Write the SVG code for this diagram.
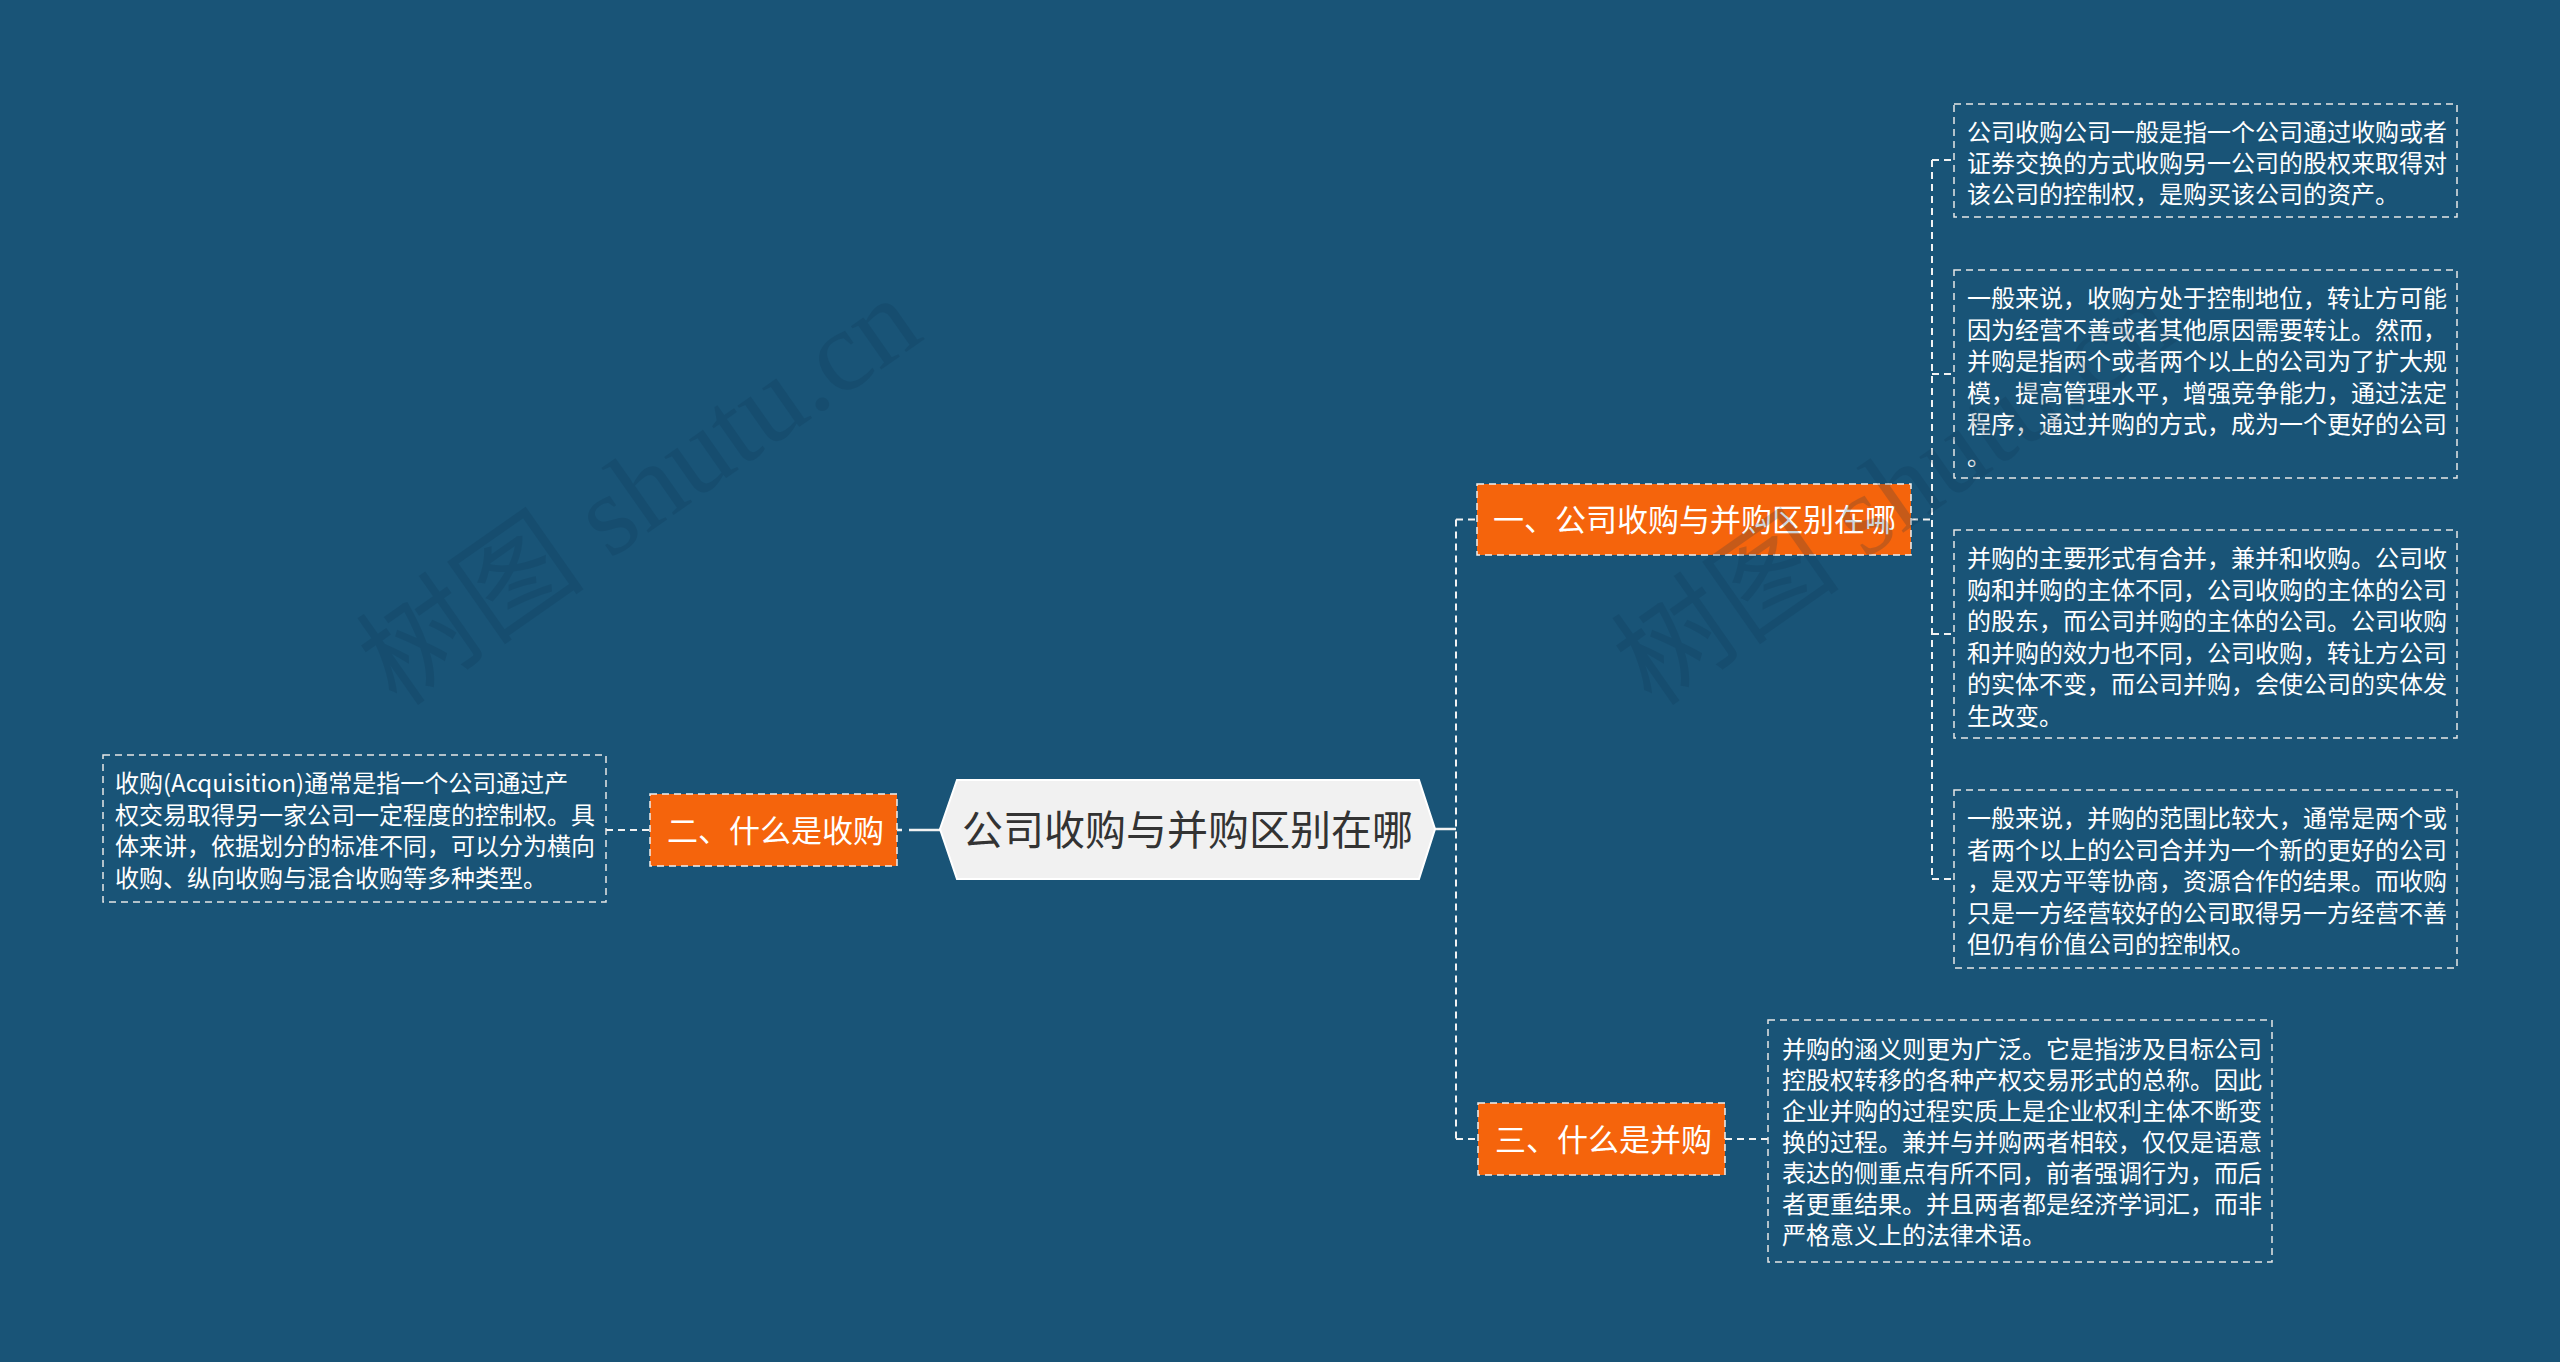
<svg xmlns="http://www.w3.org/2000/svg" width="2560" height="1362" viewBox="0 0 2560 1362">
<style>
.bg{fill:#195477}
.conn{fill:none;stroke:#f2f2f2;stroke-width:2;stroke-dasharray:7 5}
.solid{fill:none;stroke:#f2f2f2;stroke-width:2.5}
.tbox{fill:none;stroke:#e6e6e6;stroke-width:1.5;stroke-dasharray:7 5}
.obox{fill:#f5640c;stroke:#f0f0f0;stroke-width:1.5;stroke-dasharray:7 5}
.t{font-family:"Noto Sans CJK SC","Microsoft YaHei",sans-serif;font-size:24px;fill:#ffffff}
.ot{font-family:"Noto Sans CJK SC","Microsoft YaHei",sans-serif;font-size:31px;fill:#ffffff}
.ct{font-family:"Noto Sans CJK SC","Microsoft YaHei",sans-serif;font-size:41px;fill:#333333}
.wm{font-family:"Liberation Serif","Noto Sans CJK SC",serif;font-size:115px;fill:#0c3350;opacity:0.2}
</style>
<rect class="bg" x="0" y="0" width="2560" height="1362"/>

<g id="connectors">
  <path class="conn" d="M606 830 H650"/>
  <path class="solid" d="M897 830 H902 M909 830 H940"/>
  <path class="solid" d="M1435 829 H1456"/>
  <path class="conn" d="M1456 519.5 V1139"/>
  <path class="conn" d="M1456 519.5 H1477"/>
  <path class="conn" d="M1456 1139 H1478"/>
  <path class="conn" d="M1911 519.5 H1932"/>
  <path class="conn" d="M1932 160 V880"/>
  <path class="conn" d="M1932 160 H1954"/>
  <path class="conn" d="M1932 374 H1954"/>
  <path class="conn" d="M1932 634 H1954"/>
  <path class="conn" d="M1932 879 H1954"/>
  <path class="conn" d="M1725 1139 H1768"/>
</g>

<g id="root">
  <polygon points="940,829 957,780 1419,780 1435,829 1419,879 957,879" fill="#f1f1f1" stroke="#ffffff" stroke-width="2"/>
  <text class="ct" x="1187.5" y="845" text-anchor="middle">公司收购与并购区别在哪</text>
</g>

<g id="n1">
  <rect class="obox" x="1477" y="484" width="434" height="71"/>
  <text class="ot" x="1493" y="531">一、公司收购与并购区别在哪</text>
</g>

<g id="n2">
  <rect class="obox" x="650" y="794" width="247" height="72"/>
  <text class="ot" x="667" y="841.5">二、什么是收购</text>
</g>

<g id="n3">
  <rect class="obox" x="1478" y="1103" width="247" height="72"/>
  <text class="ot" x="1495" y="1150.5">三、什么是并购</text>
</g>

<g id="n1a">
  <rect class="tbox" x="1954" y="104" width="503" height="113"/>
  <text class="t" x="1967" y="141">公司收购公司一般是指一个公司通过收购或者</text>
  <text class="t" x="1967" y="172">证券交换的方式收购另一公司的股权来取得对</text>
  <text class="t" x="1967" y="203">该公司的控制权，是购买该公司的资产。</text>
</g>

<g id="n1b">
  <rect class="tbox" x="1954" y="270" width="503" height="208"/>
  <text class="t" x="1967" y="307">一般来说，收购方处于控制地位，转让方可能</text>
  <text class="t" x="1967" y="338.5">因为经营不善或者其他原因需要转让。然而，</text>
  <text class="t" x="1967" y="370">并购是指两个或者两个以上的公司为了扩大规</text>
  <text class="t" x="1967" y="401.5">模，提高管理水平，增强竞争能力，通过法定</text>
  <text class="t" x="1967" y="433">程序，通过并购的方式，成为一个更好的公司</text>
  <text class="t" x="1967" y="464.5">。</text>
</g>

<g id="n1c">
  <rect class="tbox" x="1954" y="530" width="503" height="208"/>
  <text class="t" x="1967" y="567">并购的主要形式有合并，兼并和收购。公司收</text>
  <text class="t" x="1967" y="598.5">购和并购的主体不同，公司收购的主体的公司</text>
  <text class="t" x="1967" y="630">的股东，而公司并购的主体的公司。公司收购</text>
  <text class="t" x="1967" y="661.5">和并购的效力也不同，公司收购，转让方公司</text>
  <text class="t" x="1967" y="693">的实体不变，而公司并购，会使公司的实体发</text>
  <text class="t" x="1967" y="724.5">生改变。</text>
</g>

<g id="n1d">
  <rect class="tbox" x="1954" y="790" width="503" height="178"/>
  <text class="t" x="1967" y="827">一般来说，并购的范围比较大，通常是两个或</text>
  <text class="t" x="1967" y="858.5">者两个以上的公司合并为一个新的更好的公司</text>
  <text class="t" x="1967" y="890">，是双方平等协商，资源合作的结果。而收购</text>
  <text class="t" x="1967" y="921.5">只是一方经营较好的公司取得另一方经营不善</text>
  <text class="t" x="1967" y="953">但仍有价值公司的控制权。</text>
</g>

<g id="n2a">
  <rect class="tbox" x="103" y="755" width="503" height="147"/>
  <text class="t" x="115" y="792">收购(Acquisition)通常是指一个公司通过产</text>
  <text class="t" x="115" y="823.5">权交易取得另一家公司一定程度的控制权。具</text>
  <text class="t" x="115" y="855">体来讲，依据划分的标准不同，可以分为横向</text>
  <text class="t" x="115" y="886.5">收购、纵向收购与混合收购等多种类型。</text>
</g>

<g id="n3a">
  <rect class="tbox" x="1768" y="1020" width="504" height="242"/>
  <text class="t" x="1782" y="1058">并购的涵义则更为广泛。它是指涉及目标公司</text>
  <text class="t" x="1782" y="1089">控股权转移的各种产权交易形式的总称。因此</text>
  <text class="t" x="1782" y="1120">企业并购的过程实质上是企业权利主体不断变</text>
  <text class="t" x="1782" y="1151">换的过程。兼并与并购两者相较，仅仅是语意</text>
  <text class="t" x="1782" y="1182">表达的侧重点有所不同，前者强调行为，而后</text>
  <text class="t" x="1782" y="1213">者更重结果。并且两者都是经济学词汇，而非</text>
  <text class="t" x="1782" y="1244">严格意义上的法律术语。</text>
</g>

<g id="watermarks">
  <text class="wm" x="640" y="530" text-anchor="middle" transform="rotate(-35 640 492)">树图 shutu.cn</text>
  <text class="wm" x="1895" y="530" text-anchor="middle" transform="rotate(-35 1895 492)">树图 shutu.cn</text>
</g>
</svg>
